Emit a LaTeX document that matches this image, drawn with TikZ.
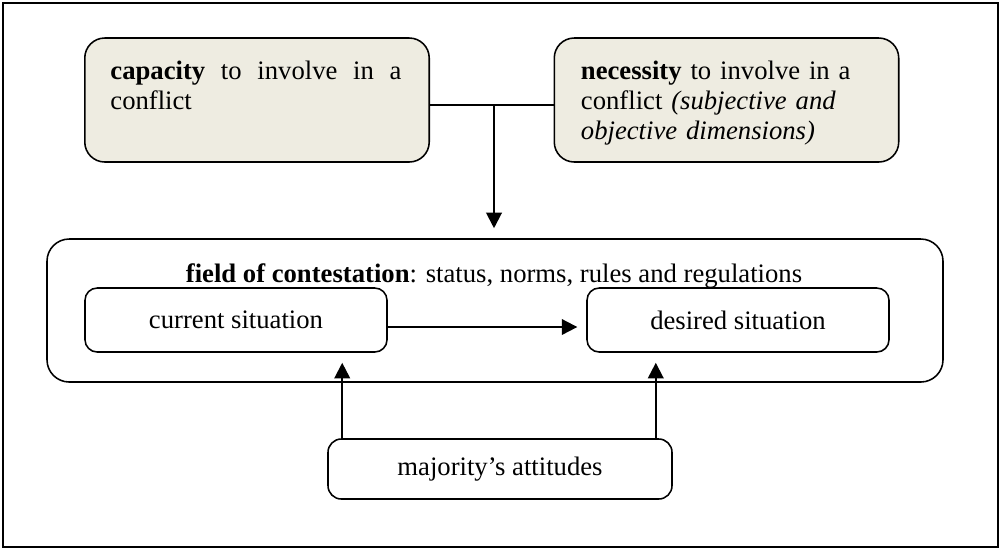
\documentclass[tikz,border=0pt]{standalone}
\usepackage{fontspec}
\setmainfont{Liberation Serif}
\usetikzlibrary{arrows.meta}
\definecolor{tanfill}{RGB}{238,236,225}

\begin{document}
\begin{tikzpicture}[x=0.45pt,y=-0.45pt,font=\fontsize{12}{13.5}\selectfont,
		topbox/.style={draw,line width=0.7pt,rounded corners=9pt,fill=tanfill,minimum width=155pt,minimum height=55.8pt,inner sep=0pt},
		boxtext/.style={anchor=north west,inner sep=0pt,text width=131pt},
		sitbox/.style={draw,line width=0.7pt,rounded corners=5.5pt,minimum width=135.9pt,minimum height=28.8pt,inner sep=0pt},
		arr/.style={-{Triangle[length=7pt,width=7pt]},line width=0.9pt}]
				\useasboundingbox (0,0) rectangle (1002,549);
				\draw[line width=0.9pt] (3,3) rectangle (998,547);
				% top boxes
				\node[topbox] (cap) at (257,100) {};
				\node[boxtext,align=justify] (captext) at ([shift={(26,23)}]cap.north west) {\textbf{capacity} to involve in a conflict};
				\node[topbox] (nec) at (726.5,100) {};
				\node[boxtext,align=left] (nectext) at ([shift={(27,23)}]nec.north west) {\textbf{necessity} to involve in a conflict \textit{(subjective and objective dimensions)}};
				% field of contestation
				\node[draw,line width=0.7pt,rounded corners=10pt,minimum width=403.2pt,minimum height=64.35pt,inner sep=0pt] (field) at (495,310.5) {};
				\node[anchor=base,inner sep=0pt] (fieldtitle) at (494,282) {\textbf{field of contestation}: status, norms, rules and regulations};
				\node[sitbox] (current) at (236,320) {current situation};
				\node[sitbox] (desired) at (738,320) {desired situation};
				\node[sitbox,rounded corners=6pt,minimum width=154.8pt,minimum height=27pt] (majority) at (500,469) {majority’s attitudes};
				% connectors
				\coordinate (join) at (494,105);
				\draw[line width=0.7pt] (cap.east |- join) -- (nec.west |- join);
				\draw[arr,shorten >=4.5pt] (join) -- (join |- field.north);
				\draw[arr,shorten >=4pt] ([shift={(0,7)}]current.east) -- ([shift={(0,7)}]desired.west);
				\draw[arr,shorten >=4.5pt] ([shift={(15,0)}]majority.north west) -- ([shift={(15,0)}]majority.north west |- current.south);
				\draw[arr,shorten >=4.5pt] ([shift={(-17,0)}]majority.north east) -- ([shift={(-17,0)}]majority.north east |- desired.south);
			\end{tikzpicture}
\end{document}
